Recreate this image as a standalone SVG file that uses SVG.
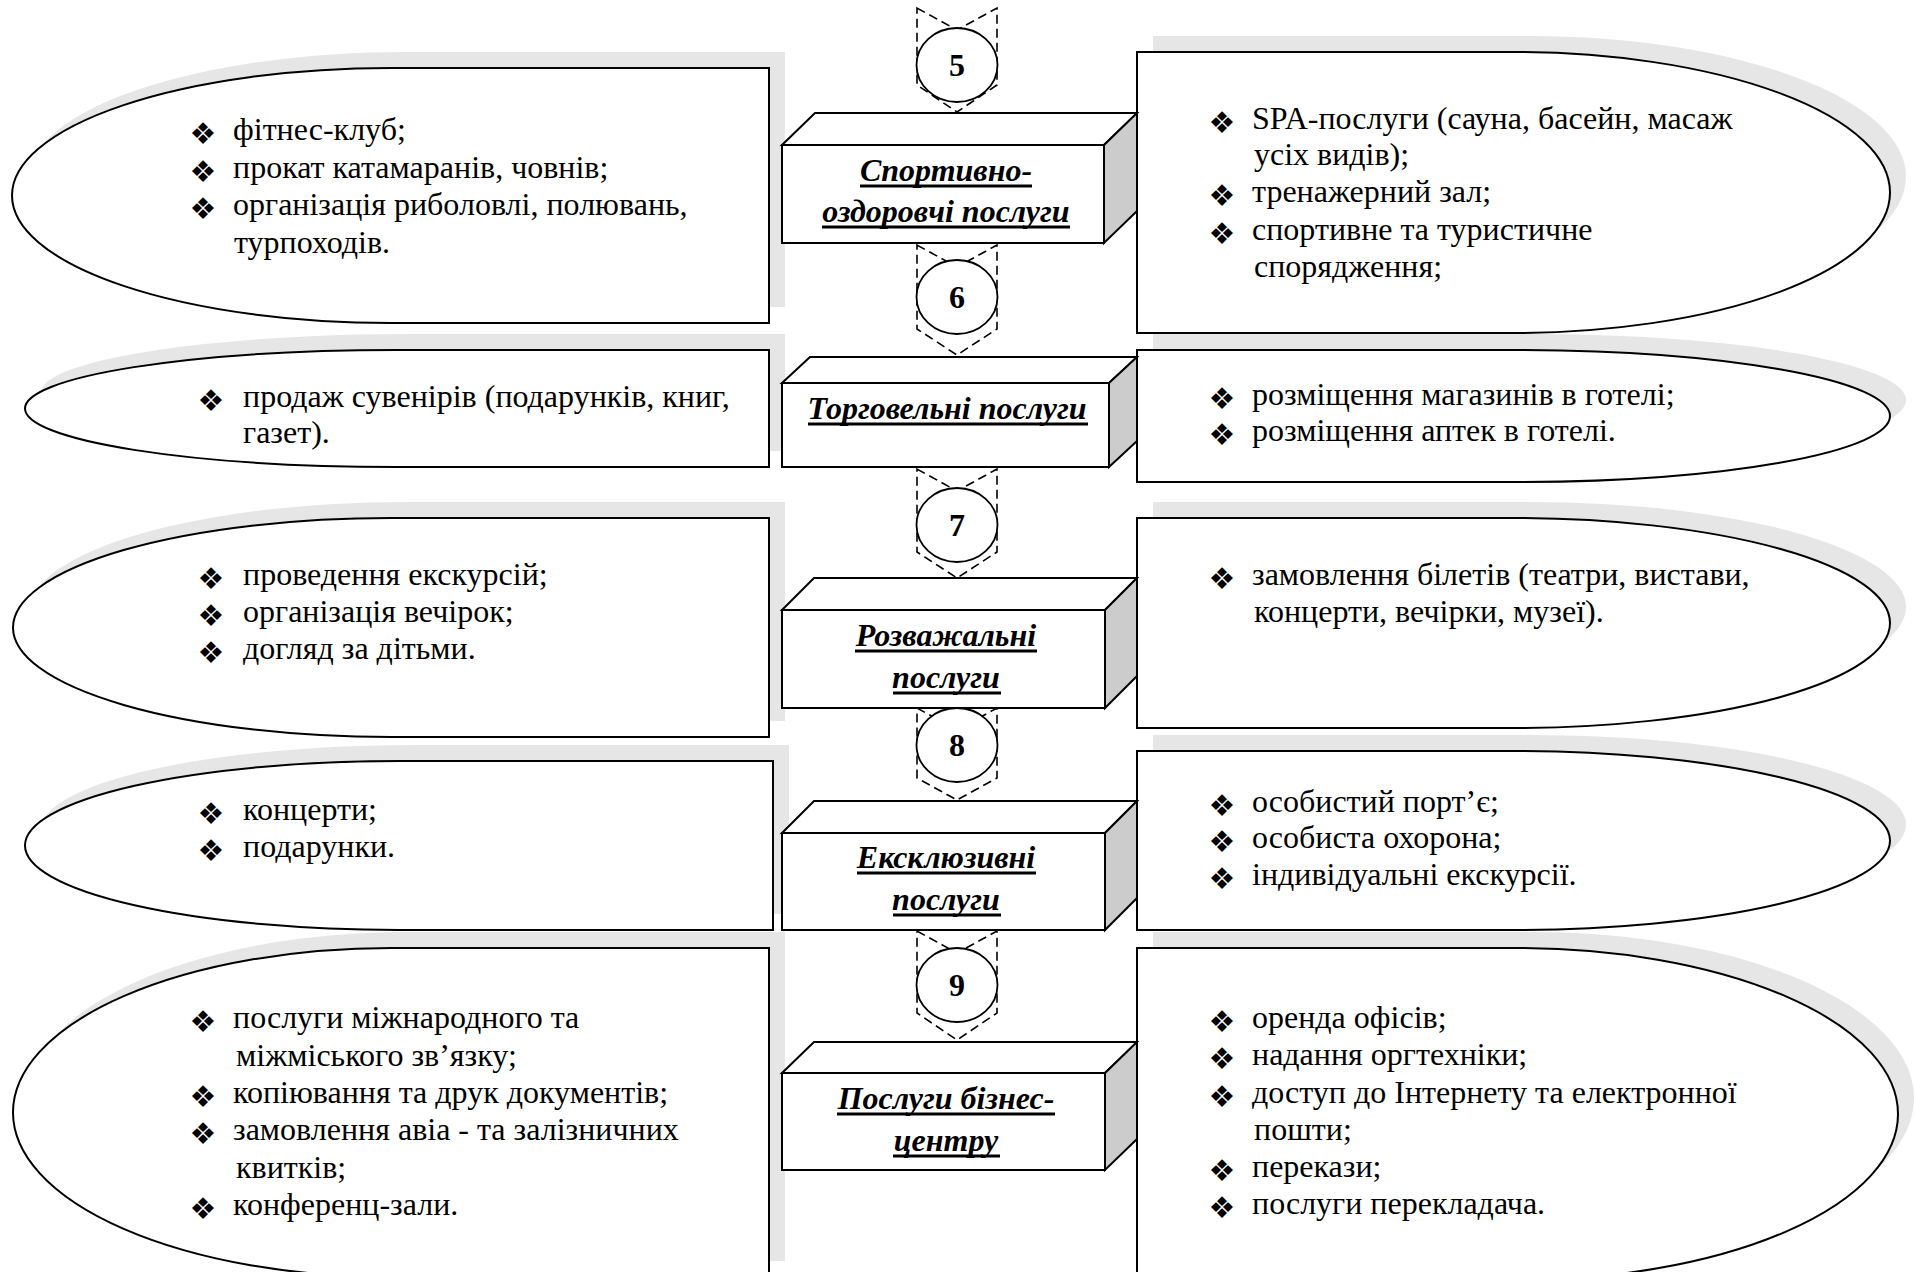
<svg xmlns="http://www.w3.org/2000/svg" width="1915" height="1272" viewBox="0 0 1915 1272">
<style>
.sh{fill:#e6e6e6;stroke:none}
.shape{fill:#fff;stroke:#000;stroke-width:2}
.face{fill:#fff;stroke:#000;stroke-width:2;stroke-linejoin:miter}
.side{fill:#cccccc;stroke:#000;stroke-width:2;stroke-linejoin:miter}
.conn{fill:none;stroke:#000;stroke-width:1.6;stroke-dasharray:9 5}
.circ{fill:#fff;stroke:#000;stroke-width:1.8}
.num{font-family:"Liberation Serif",serif;font-weight:bold;font-size:32px;text-anchor:middle}
.title{font-family:"Liberation Serif",serif;font-weight:bold;font-style:italic;font-size:32px;text-anchor:middle}
.ul{stroke:#000;stroke-width:3}
.t{font-family:"Liberation Serif",serif;font-size:32px}
.b{font-family:"DejaVu Sans",sans-serif;font-size:30px;text-anchor:middle}
</style>
<g id="shadows">
<path class="sh" transform="translate(16,-16)" d="M769 68 H390.5 A378.5 127.5 0 0 0 390.5 323 H769 Z"/>
<path class="sh" transform="translate(16,-16)" d="M1137 52 H1513.5 A376.5 140.5 0 0 1 1513.5 333 H1137 Z"/>
<path class="sh" transform="translate(16,-16)" d="M769 350 H397 A372 58.5 0 0 0 397 467 H769 Z"/>
<path class="sh" transform="translate(16,-16)" d="M1137 350 H1513.5 A376.5 66 0 0 1 1513.5 482 H1137 Z"/>
<path class="sh" transform="translate(16,-16)" d="M769 518 H391 A378 109.5 0 0 0 391 737 H769 Z"/>
<path class="sh" transform="translate(16,-16)" d="M1137 518 H1513.5 A376.5 105 0 0 1 1513.5 728 H1137 Z"/>
<path class="sh" transform="translate(16,-16)" d="M773 761 H399 A374 84.5 0 0 0 399 930 H773 Z"/>
<path class="sh" transform="translate(16,-16)" d="M1137 751 H1513.5 A376.5 89.5 0 0 1 1513.5 930 H1137 Z"/>
<path class="sh" transform="translate(16,-16)" d="M769 948 H391 A378 164.5 0 0 0 391 1277 H769 Z"/>
<path class="sh" transform="translate(16,-16)" d="M1137 948 H1517.5 A380.5 166 0 0 1 1517.5 1280 H1137 Z"/>
</g>
<g id="connectors">
<path class="conn" d="M917 8 L957 30 L997 8 V85 L957 112 L917 85 Z"/>
<path class="conn" d="M917 245 L957 267 L997 245 V329 L957 355 L917 329 Z"/>
<path class="conn" d="M917 469 L957 491 L997 469 V552 L957 578 L917 552 Z"/>
<path class="conn" d="M917 708 L957 730 L997 708 V778 L957 800 L917 778 Z"/>
<path class="conn" d="M917 931 L957 953 L997 931 V1013 L957 1040 L917 1013 Z"/>
</g>
<g id="left1"><path class="shape" d="M769 68 H390.5 A378.5 127.5 0 0 0 390.5 323 H769 Z"/>
<text class="b" x="203" y="144">❖</text><text class="t" x="233" y="140">фітнес-клуб;</text>
<text class="b" x="203" y="182">❖</text><text class="t" x="233" y="178">прокат катамаранів, човнів;</text>
<text class="b" x="203" y="219">❖</text><text class="t" x="233" y="215">організація риболовлі, полювань,</text>
<text class="t" x="234" y="253">турпоходів.</text></g>
<g id="right1"><path class="shape" d="M1137 52 H1513.5 A376.5 140.5 0 0 1 1513.5 333 H1137 Z"/>
<text class="b" x="1222" y="133">❖</text><text class="t" x="1252" y="129">SPA-послуги (сауна, басейн, масаж</text>
<text class="t" x="1254" y="165">усіх видів);</text>
<text class="b" x="1222" y="206">❖</text><text class="t" x="1252" y="202">тренажерний зал;</text>
<text class="b" x="1222" y="244">❖</text><text class="t" x="1252" y="240">спортивне та туристичне</text>
<text class="t" x="1254" y="277">спорядження;</text></g>
<g id="left2"><path class="shape" d="M769 350 H397 A372 58.5 0 0 0 397 467 H769 Z"/>
<text class="b" x="211" y="411">❖</text><text class="t" x="243" y="407">продаж сувенірів (подарунків, книг,</text>
<text class="t" x="243" y="443">газет).</text></g>
<g id="right2"><path class="shape" d="M1137 350 H1513.5 A376.5 66 0 0 1 1513.5 482 H1137 Z"/>
<text class="b" x="1222" y="409">❖</text><text class="t" x="1252" y="405">розміщення магазинів в готелі;</text>
<text class="b" x="1222" y="445">❖</text><text class="t" x="1252" y="441">розміщення аптек в готелі.</text></g>
<g id="left3"><path class="shape" d="M769 518 H391 A378 109.5 0 0 0 391 737 H769 Z"/>
<text class="b" x="211" y="589">❖</text><text class="t" x="243" y="585">проведення екскурсій;</text>
<text class="b" x="211" y="626">❖</text><text class="t" x="243" y="622">організація вечірок;</text>
<text class="b" x="211" y="663">❖</text><text class="t" x="243" y="659">догляд за дітьми.</text></g>
<g id="right3"><path class="shape" d="M1137 518 H1513.5 A376.5 105 0 0 1 1513.5 728 H1137 Z"/>
<text class="b" x="1222" y="589">❖</text><text class="t" x="1252" y="585">замовлення білетів (театри, вистави,</text>
<text class="t" x="1254" y="622">концерти, вечірки, музеї).</text></g>
<g id="left4"><path class="shape" d="M773 761 H399 A374 84.5 0 0 0 399 930 H773 Z"/>
<text class="b" x="211" y="824">❖</text><text class="t" x="243" y="820">концерти;</text>
<text class="b" x="211" y="861">❖</text><text class="t" x="243" y="857">подарунки.</text></g>
<g id="right4"><path class="shape" d="M1137 751 H1513.5 A376.5 89.5 0 0 1 1513.5 930 H1137 Z"/>
<text class="b" x="1222" y="816">❖</text><text class="t" x="1252" y="812">особистий порт’є;</text>
<text class="b" x="1222" y="852">❖</text><text class="t" x="1252" y="848">особиста охорона;</text>
<text class="b" x="1222" y="889">❖</text><text class="t" x="1252" y="885">індивідуальні екскурсії.</text></g>
<g id="left5"><path class="shape" d="M769 948 H391 A378 164.5 0 0 0 391 1277 H769 Z"/>
<text class="b" x="203" y="1032">❖</text><text class="t" x="233" y="1028">послуги міжнародного та</text>
<text class="t" x="236" y="1066">міжміського зв’язку;</text>
<text class="b" x="203" y="1107">❖</text><text class="t" x="233" y="1103">копіювання та друк документів;</text>
<text class="b" x="203" y="1144">❖</text><text class="t" x="233" y="1140">замовлення авіа - та залізничних</text>
<text class="t" x="236" y="1178">квитків;</text>
<text class="b" x="203" y="1219">❖</text><text class="t" x="233" y="1215">конференц-зали.</text></g>
<g id="right5"><path class="shape" d="M1137 948 H1517.5 A380.5 166 0 0 1 1517.5 1280 H1137 Z"/>
<text class="b" x="1222" y="1032">❖</text><text class="t" x="1252" y="1028">оренда офісів;</text>
<text class="b" x="1222" y="1069">❖</text><text class="t" x="1252" y="1065">надання оргтехніки;</text>
<text class="b" x="1222" y="1107">❖</text><text class="t" x="1252" y="1103">доступ до Інтернету та електронної</text>
<text class="t" x="1254" y="1140">пошти;</text>
<text class="b" x="1222" y="1181">❖</text><text class="t" x="1252" y="1177">перекази;</text>
<text class="b" x="1222" y="1218">❖</text><text class="t" x="1252" y="1214">послуги перекладача.</text></g>
<g id="block1">
<polygon class="face" points="782,145 815,113 1137,113 1104,145"/>
<polygon class="side" points="1104,145 1137,113 1137,211 1104,243"/>
<rect class="face" x="782" y="145" width="322" height="98"/>
<text class="title" x="946" y="181">Спортивно-</text>
<line class="ul" x1="860" y1="186" x2="1032" y2="186"/>
<text class="title" x="946" y="222">оздоровчі послуги</text>
<line class="ul" x1="822" y1="227" x2="1070" y2="227"/></g>
<g id="block2">
<polygon class="face" points="782,383 810,357 1137,357 1109,383"/>
<polygon class="side" points="1109,383 1137,357 1137,441 1109,467"/>
<rect class="face" x="782" y="383" width="327" height="84"/>
<text class="title" x="947" y="419">Торговельні послуги</text>
<line class="ul" x1="808" y1="424" x2="1088" y2="424"/></g>
<g id="block3">
<polygon class="face" points="782,610 814,578 1137,578 1105,610"/>
<polygon class="side" points="1105,610 1137,578 1137,676 1105,708"/>
<rect class="face" x="782" y="610" width="323" height="98"/>
<text class="title" x="946" y="646">Розважальні</text>
<line class="ul" x1="855" y1="651" x2="1037" y2="651"/>
<text class="title" x="946" y="688">послуги</text>
<line class="ul" x1="893" y1="693" x2="1001" y2="693"/></g>
<g id="block4">
<polygon class="face" points="782,833 814,801 1137,801 1105,833"/>
<polygon class="side" points="1105,833 1137,801 1137,898 1105,930"/>
<rect class="face" x="782" y="833" width="323" height="97"/>
<text class="title" x="946" y="868">Ексклюзивні</text>
<line class="ul" x1="857" y1="873" x2="1036" y2="873"/>
<text class="title" x="946" y="910">послуги</text>
<line class="ul" x1="893" y1="915" x2="1001" y2="915"/></g>
<g id="block5">
<polygon class="face" points="782,1073 814,1042 1137,1042 1105,1073"/>
<polygon class="side" points="1105,1073 1137,1042 1137,1139 1105,1170"/>
<rect class="face" x="782" y="1073" width="323" height="97"/>
<text class="title" x="946" y="1109">Послуги бізнес-</text>
<line class="ul" x1="837" y1="1114" x2="1055" y2="1114"/>
<text class="title" x="946" y="1151">центру</text>
<line class="ul" x1="893" y1="1156" x2="1000" y2="1156"/></g>
<g id="n5"><ellipse class="circ" cx="957" cy="65" rx="40.5" ry="37"/><text class="num" x="957" y="76">5</text></g>
<g id="n6"><ellipse class="circ" cx="957" cy="297" rx="40.5" ry="37"/><text class="num" x="957" y="308">6</text></g>
<g id="n7"><ellipse class="circ" cx="957" cy="525" rx="40.5" ry="37"/><text class="num" x="957" y="536">7</text></g>
<g id="n8"><ellipse class="circ" cx="957" cy="745" rx="40.5" ry="37"/><text class="num" x="957" y="756">8</text></g>
<g id="n9"><ellipse class="circ" cx="957" cy="985" rx="40.5" ry="37"/><text class="num" x="957" y="996">9</text></g>
</svg>
